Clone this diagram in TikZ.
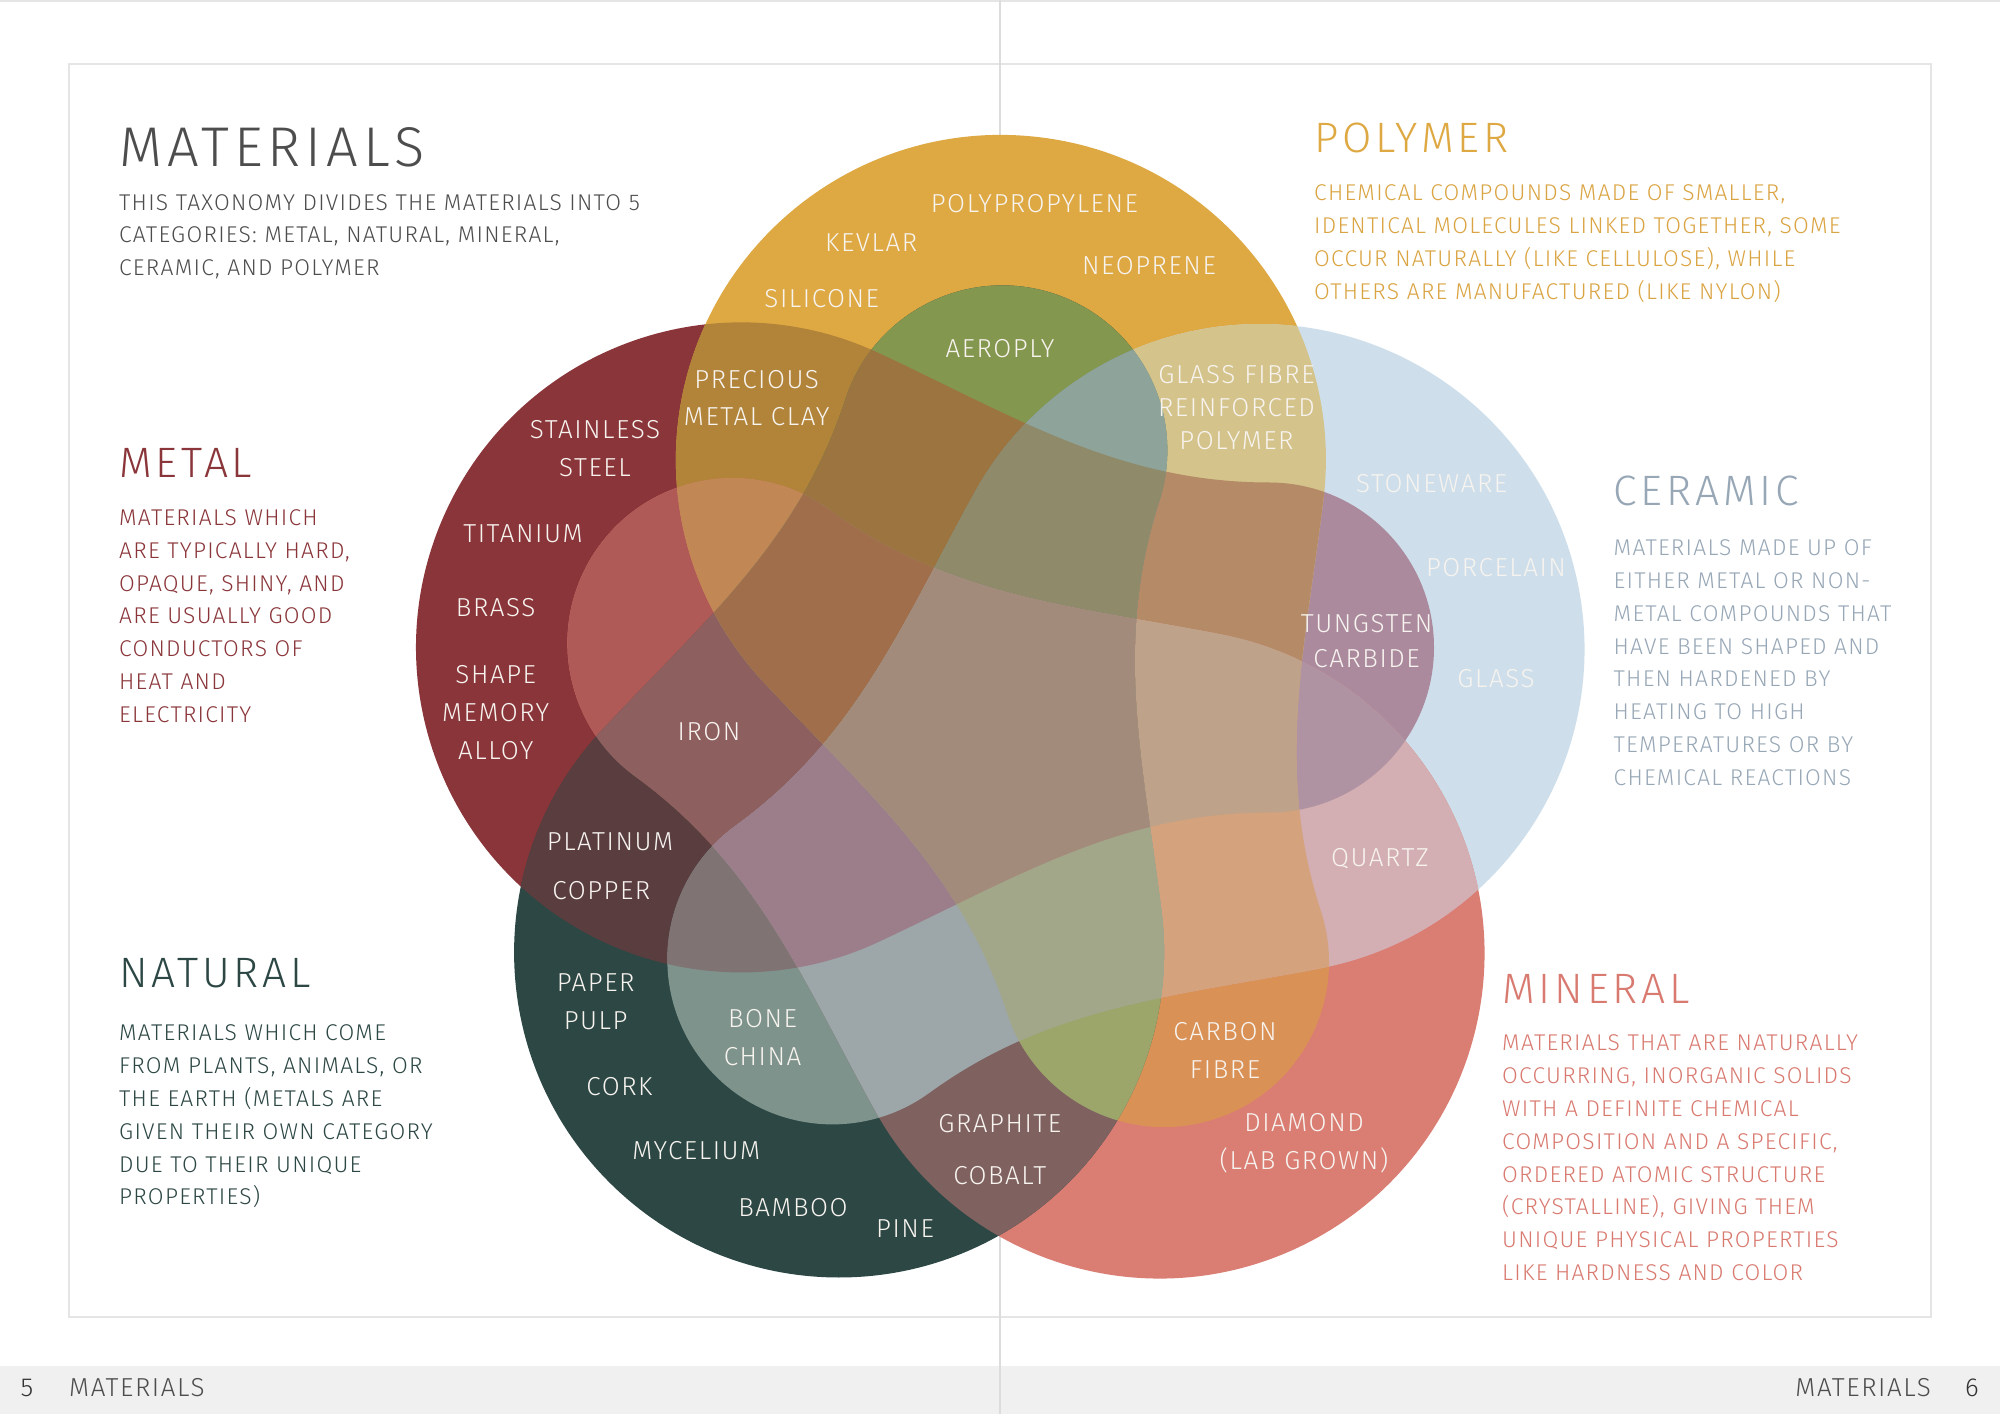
\documentclass[tikz,border=0pt]{standalone}
\usepackage{fontspec}
\setmainfont{Fira Sans}[UprightFont={* Light},LetterSpace=5.5]
\newfontfamily\lblfont{Fira Sans}[UprightFont={* Light},LetterSpace=6]
\newfontfamily\headfont{Fira Sans}[UprightFont={* Light},LetterSpace=9]
% pure colours
\definecolor{cM}{HTML}{8A3539}
\definecolor{cP}{HTML}{DEA842}
\definecolor{cC}{HTML}{CEDFEB}
\definecolor{cI}{HTML}{DA7D73}
\definecolor{cN}{HTML}{2C4744}
% overlap colours (M metal, P polymer, C ceramic, I mineral, N natural)
\definecolor{cMP}{HTML}{B1843A}
\definecolor{cMC}{HTML}{AB8A9E}
\definecolor{cMI}{HTML}{B05A57}
\definecolor{cMN}{HTML}{5A3D3F}
\definecolor{cPC}{HTML}{D4C38A}
\definecolor{cPI}{HTML}{DA9155}
\definecolor{cPN}{HTML}{84974F}
\definecolor{cCI}{HTML}{D3AEB2}
\definecolor{cCN}{HTML}{7E938C}
\definecolor{cIN}{HTML}{7F6260}
\definecolor{cMPC}{HTML}{B48A67}
\definecolor{cMPI}{HTML}{C18856}
\definecolor{cMPN}{HTML}{9C7440}
\definecolor{cMCI}{HTML}{B093A3}
\definecolor{cMCN}{HTML}{7F7374}
\definecolor{cMIN}{HTML}{8E5F5F}
\definecolor{cPCI}{HTML}{D4A27C}
\definecolor{cPCN}{HTML}{8EA49B}
\definecolor{cPIN}{HTML}{9CA66A}
\definecolor{cCIN}{HTML}{9DA6A8}
\definecolor{cMPCI}{HTML}{BFA28A}
\definecolor{cMPCN}{HTML}{8E8A6A}
\definecolor{cMPIN}{HTML}{A06E4A}
\definecolor{cMCIN}{HTML}{9B7E8A}
\definecolor{cPCIN}{HTML}{A3A78A}
\definecolor{cMPCIN}{HTML}{A38B7C}
% text colours
\definecolor{txGrey}{HTML}{4D4D4D}
\definecolor{txDark}{HTML}{333333}
\definecolor{txCe}{HTML}{97A7B6}
\definecolor{txPo}{HTML}{DAA442}
\definecolor{txMi}{HTML}{D97A70}
\definecolor{labwhite}{HTML}{F7F3EF}
\definecolor{frameGrey}{HTML}{E5E5E5}
\definecolor{footBg}{HTML}{F0F0F0}
\definecolor{foldGrey}{HTML}{DCDCDC}
% one set: big circle + small end circle joined by S-curves (metal orientation, relative to centre)
\newcommand\clipS[1]{\clip[shift={(1000,681.5)},rotate=#1] (-121.6,379.6) arc[start angle=65,end angle=295,radius=325] .. controls (14.3,-146.1) and (119,-80) .. (269,-80) arc[start angle=-90,end angle=90,radius=165] .. controls (119,250) and (14.3,316.1) .. (-121.6,379.6) -- cycle;}
\newcommand\klM{\clipS{0}}
\newcommand\klP{\clipS{-72}}
\newcommand\klC{\clipS{-144}}
\newcommand\klI{\clipS{-216}}
\newcommand\klN{\clipS{-288}}
\newcommand\reg[2]{\begin{scope}#1\fill[#2] (300,80) rectangle (1700,1330);\end{scope}}
\begin{document}
\begin{tikzpicture}[x=1pt,y=1pt,
  lbl/.style={text=labwhite, font=\lblfont\fontsize{26}{38}\selectfont, align=center, inner sep=0pt},
  bodytxt/.style={font=\fontsize{22.8}{32.8}\selectfont, align=left, inner sep=0pt, anchor=north west},
  headtxt/.style={font=\headfont\fontsize{42.5}{50}\selectfont, inner sep=0pt, anchor=north west},
  foottxt/.style={font=\lblfont\fontsize{26}{30}\selectfont, inner sep=0pt}]
\useasboundingbox (0,0) rectangle (2000,1414);
\fill[white] (0,0) rectangle (2000,1414);
\draw[frameGrey, line width=2] (0,1413) -- (2000,1413);
\draw[frameGrey, line width=2] (69,97.4) rectangle (1931,1350);
\fill[footBg] (0,0) rectangle (2000,48);
\draw[foldGrey, line width=1.5] (1000,0) -- (1000,1414);
% ---- regions, painted by increasing number of sets
\reg{\klM}{cM}
\reg{\klP}{cP}
\reg{\klC}{cC}
\reg{\klI}{cI}
\reg{\klN}{cN}
\reg{\klM\klP}{cMP}
\reg{\klM\klC}{cMC}
\reg{\klM\klI}{cMI}
\reg{\klM\klN}{cMN}
\reg{\klP\klC}{cPC}
\reg{\klP\klI}{cPI}
\reg{\klP\klN}{cPN}
\reg{\klC\klI}{cCI}
\reg{\klC\klN}{cCN}
\reg{\klI\klN}{cIN}
\reg{\klM\klP\klC}{cMPC}
\reg{\klM\klP\klI}{cMPI}
\reg{\klM\klP\klN}{cMPN}
\reg{\klM\klC\klI}{cMCI}
\reg{\klM\klC\klN}{cMCN}
\reg{\klM\klI\klN}{cMIN}
\reg{\klP\klC\klI}{cPCI}
\reg{\klP\klC\klN}{cPCN}
\reg{\klP\klI\klN}{cPIN}
\reg{\klC\klI\klN}{cCIN}
\reg{\klM\klP\klC\klI}{cMPCI}
\reg{\klM\klP\klC\klN}{cMPCN}
\reg{\klM\klP\klI\klN}{cMPIN}
\reg{\klM\klC\klI\klN}{cMCIN}
\reg{\klP\klC\klI\klN}{cPCIN}
\reg{\klM\klP\klC\klI\klN}{cMPCIN}
% ---- labels inside the diagram
\node[lbl] (lPolyp) at (1034.4,1210) {POLYPROPYLENE};
\node[lbl] (lKevlar) at (871.2,1171.7) {KEVLAR};
\node[lbl] (lNeo) at (1149,1148) {NEOPRENE};
\node[lbl] (lSil) at (821.7,1115) {SILICONE};
\node[lbl] (lAero) at (1000,1065.2) {AEROPLY};
\node[lbl, font=\lblfont\fontsize{26}{36.4}\selectfont] (lPmc) at (756.7,1015.7) {PRECIOUS\\METAL CLAY};
\node[lbl] (lSteel) at (595,965) {STAINLESS\\STEEL};
\node[lbl, font=\lblfont\fontsize{26}{33}\selectfont] (lGfrp) at (1236.5,1006) {GLASS FIBRE\\REINFORCED\\POLYMER};
\node[lbl] (lStone) at (1431.7,930) {STONEWARE};
\node[lbl] (lPorc) at (1496,846.4) {PORCELAIN};
\node[lbl, font=\lblfont\fontsize{26}{35.7}\selectfont] (lTung) at (1366.6,773) {TUNGSTEN\\CARBIDE};
\node[lbl] (lGlass) at (1496,735.4) {GLASS};
\node[lbl] (lTit) at (523,880) {TITANIUM};
\node[lbl] (lBrass) at (495.7,806.2) {BRASS};
\node[lbl] (lSma) at (495.7,701) {SHAPE\\MEMORY\\ALLOY};
\node[lbl] (lIron) at (709,682.6) {IRON};
\node[lbl] (lPlat) at (610,572) {PLATINUM};
\node[lbl] (lCop) at (601.4,523.2) {COPPER};
\node[lbl] (lQuartz) at (1380,555.7) {QUARTZ};
\node[lbl] (lPaper) at (595.7,412.7) {PAPER\\PULP};
\node[lbl] (lBone) at (762.5,376) {BONE\\CHINA};
\node[lbl] (lCork) at (619.4,327.2) {CORK};
\node[lbl] (lMyc) at (696.3,263) {MYCELIUM};
\node[lbl] (lBamboo) at (793,206.3) {BAMBOO};
\node[lbl] (lPine) at (905,185.6) {PINE};
\node[lbl] (lGraph) at (999.8,290) {GRAPHITE};
\node[lbl] (lCob) at (999.8,238) {COBALT};
\node[lbl] (lCarb) at (1225,363.2) {CARBON\\FIBRE};
\node[lbl] (lDiam) at (1304,270.6) {DIAMOND\\(LAB GROWN)};
% ---- side texts
\node[headtxt, text=txGrey, font=\headfont\fontsize{56}{60}\selectfont] (ttl) at (119,1287) {MATERIALS};
\node[bodytxt, text=txGrey] (ttlBody) at (119,1220) {THIS TAXONOMY DIVIDES THE MATERIALS INTO 5\\CATEGORIES: METAL, NATURAL, MINERAL,\\CERAMIC, AND POLYMER};
\node[headtxt, text=cM] (metalH) at (119,965.4) {METAL};
\node[bodytxt, text=cM] (metalB) at (119,904.5) {MATERIALS WHICH\\ARE TYPICALLY HARD,\\OPAQUE, SHINY, AND\\ARE USUALLY GOOD\\CONDUCTORS OF\\HEAT AND\\ELECTRICITY};
\node[headtxt, text=cN] (natH) at (119,455.9) {NATURAL};
\node[bodytxt, text=cN] (natB) at (119,389.1) {MATERIALS WHICH COME\\FROM PLANTS, ANIMALS, OR\\THE EARTH (METALS ARE\\GIVEN THEIR OWN CATEGORY\\DUE TO THEIR UNIQUE\\PROPERTIES)};
\node[headtxt, text=cP] (polyH) at (1314,1291.4) {POLYMER};
\node[bodytxt, text=txPo] (polyB) at (1314,1229.1) {CHEMICAL COMPOUNDS MADE OF SMALLER,\\IDENTICAL MOLECULES LINKED TOGETHER, SOME\\OCCUR NATURALLY (LIKE CELLULOSE), WHILE\\OTHERS ARE MANUFACTURED (LIKE NYLON)};
\node[headtxt, text=txCe] (ceraH) at (1613.5,938.3) {CERAMIC};
\node[bodytxt, text=txCe] (ceraB) at (1613.5,874.3) {MATERIALS MADE UP OF\\EITHER METAL OR NON-\\METAL COMPOUNDS THAT\\HAVE BEEN SHAPED AND\\THEN HARDENED BY\\HEATING TO HIGH\\TEMPERATURES OR BY\\CHEMICAL REACTIONS};
\node[headtxt, text=txMi] (minH) at (1502,440.1) {MINERAL};
\node[bodytxt, text=txMi] (minB) at (1502,379.2) {MATERIALS THAT ARE NATURALLY\\OCCURRING, INORGANIC SOLIDS\\WITH A DEFINITE CHEMICAL\\COMPOSITION AND A SPECIFIC,\\ORDERED ATOMIC STRUCTURE\\(CRYSTALLINE), GIVING THEM\\UNIQUE PHYSICAL PROPERTIES\\LIKE HARDNESS AND COLOR};
% ---- footer
\node[foottxt, anchor=base, text=txDark] (pg5) at (27,17.2) {5};
\node[foottxt, anchor=base west, text=txGrey] (ftL) at (69,17.2) {MATERIALS};
\node[foottxt, anchor=base east, text=txGrey] (ftR) at (1931,17.2) {MATERIALS};
\node[foottxt, anchor=base, text=txDark] (pg6) at (1972,17.2) {6};
\end{tikzpicture}
\end{document}
